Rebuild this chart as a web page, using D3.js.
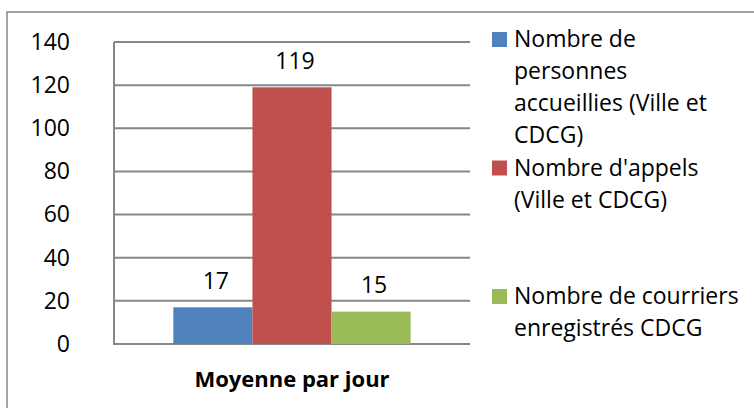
<!DOCTYPE html>
<html>
<head>
<meta charset="utf-8">
<script src="https://cdn.jsdelivr.net/npm/d3@7"></script>
<style>
  body { margin: 0; background: #fff; }
  svg { display: block; font-family: "Open Sans", sans-serif; }
</style>
</head>
<body>
<svg id="vis"></svg>
<script>
// data
const category = "Moyenne par jour";
const seriesNames = [
  ["Nombre de", "personnes", "accueillies (Ville et", "CDCG)"],
  ["Nombre d'appels", "(Ville et CDCG)"],
  ["Nombre de courriers", "enregistrés CDCG"]
];
const seriesValues = [17, 119, 15];
const seriesColors = ["#4f81bd", "#c0504d", "#9bbb59"];
const yTicks = [0, 20, 40, 60, 80, 100, 120, 140];

let config = { svg: {}, plot: {}, legend: {} };

config.svg.width = 754;
config.svg.height = 408;

config.plot.x = 114;
config.plot.y = 42;
config.plot.width = 356;
config.plot.height = 302;

config.legend.x = 492;
config.legend.y = 32;
config.legend.box = 15;
config.legend.lineHeight = 32;
config.legend.itemHeight = 128.5;

const fontSize = "23px";
const grid = "#878787";

const svg = d3.select("svg#vis")
  .attr("width", config.svg.width)
  .attr("height", config.svg.height);

// chart area border (runs off the right and bottom edges)
svg.append("rect")
  .attr("x", 7)
  .attr("y", 12)
  .attr("width", 800)
  .attr("height", 450)
  .attr("fill", "none")
  .attr("stroke", grid)
  .attr("stroke-width", 1.5);

let plot = svg.append("g")
  .attr("id", "plot")
  .attr("transform", translate(config.plot.x, config.plot.y));

let scale = {};

scale.y = d3.scaleLinear()
  .domain([0, 140])
  .range([config.plot.height, 0]);

scale.x = d3.scaleBand()
  .domain([category])
  .range([0, config.plot.width]);

scale.series = d3.scaleBand()
  .domain(d3.range(seriesValues.length))
  .range([0, scale.x.bandwidth()])
  .paddingOuter(0.75)
  .paddingInner(0);

// gridlines
plot.append("g")
  .selectAll("line")
  .data(yTicks)
  .enter()
  .append("line")
  .attr("x1", 0)
  .attr("x2", config.plot.width)
  .attr("y1", d => scale.y(d))
  .attr("y2", d => scale.y(d))
  .attr("stroke", grid)
  .attr("stroke-width", 2);

// y axis
let axisY = d3.axisLeft(scale.y)
  .tickValues(yTicks)
  .tickSize(0)
  .tickPadding(44);

let gy = plot.append("g")
  .call(axisY);
gy.select(".domain").remove();
gy.selectAll("text")
  .attr("font-family", "'Open Sans', sans-serif")
  .attr("font-size", fontSize)
  .attr("fill", "#000");

plot.append("line")
  .attr("x1", 0)
  .attr("x2", 0)
  .attr("y1", 0)
  .attr("y2", config.plot.height + 1)
  .attr("stroke", grid)
  .attr("stroke-width", 2);

// bars
let x0 = scale.x(category);
plot.selectAll("rect.bar")
  .data(seriesValues)
  .enter()
  .append("rect")
  .attr("class", "bar")
  .attr("x", (d, i) => x0 + scale.series(i))
  .attr("y", d => scale.y(d))
  .attr("width", scale.series.bandwidth())
  .attr("height", d => scale.y(0) - scale.y(d))
  .attr("fill", (d, i) => seriesColors[i]);

// value labels
plot.selectAll("text.value")
  .data(seriesValues)
  .enter()
  .append("text")
  .attr("class", "value")
  .attr("x", (d, i) => x0 + scale.series(i) + scale.series.bandwidth() / 2 + 3)
  .attr("y", d => scale.y(d) - 18.5)
  .attr("text-anchor", "middle")
  .attr("font-size", fontSize)
  .text(d => d);

// category title
svg.append("text")
  .attr("x", config.plot.x + x0 + scale.x.bandwidth() / 2)
  .attr("y", 387)
  .attr("text-anchor", "middle")
  .attr("font-size", "22px")
  .attr("font-weight", "bold")
  .text(category);

// legend
let legend = svg.append("g")
  .attr("id", "legend")
  .attr("transform", translate(config.legend.x, config.legend.y));

let items = legend.selectAll("g")
  .data(seriesNames)
  .enter()
  .append("g")
  .attr("transform", (d, i) => translate(0, i * config.legend.itemHeight));

items.append("rect")
  .attr("width", config.legend.box)
  .attr("height", config.legend.box)
  .attr("fill", (d, i) => seriesColors[i]);

items.append("text")
  .attr("font-size", fontSize)
  .selectAll("tspan")
  .data(d => d)
  .enter()
  .append("tspan")
  .attr("x", 22)
  .attr("y", (d, i) => 15 + i * config.legend.lineHeight)
  .text(d => d);

function translate(x, y) {
  return 'translate(' + x + ',' + y + ')';
}
</script>
</body>
</html>
